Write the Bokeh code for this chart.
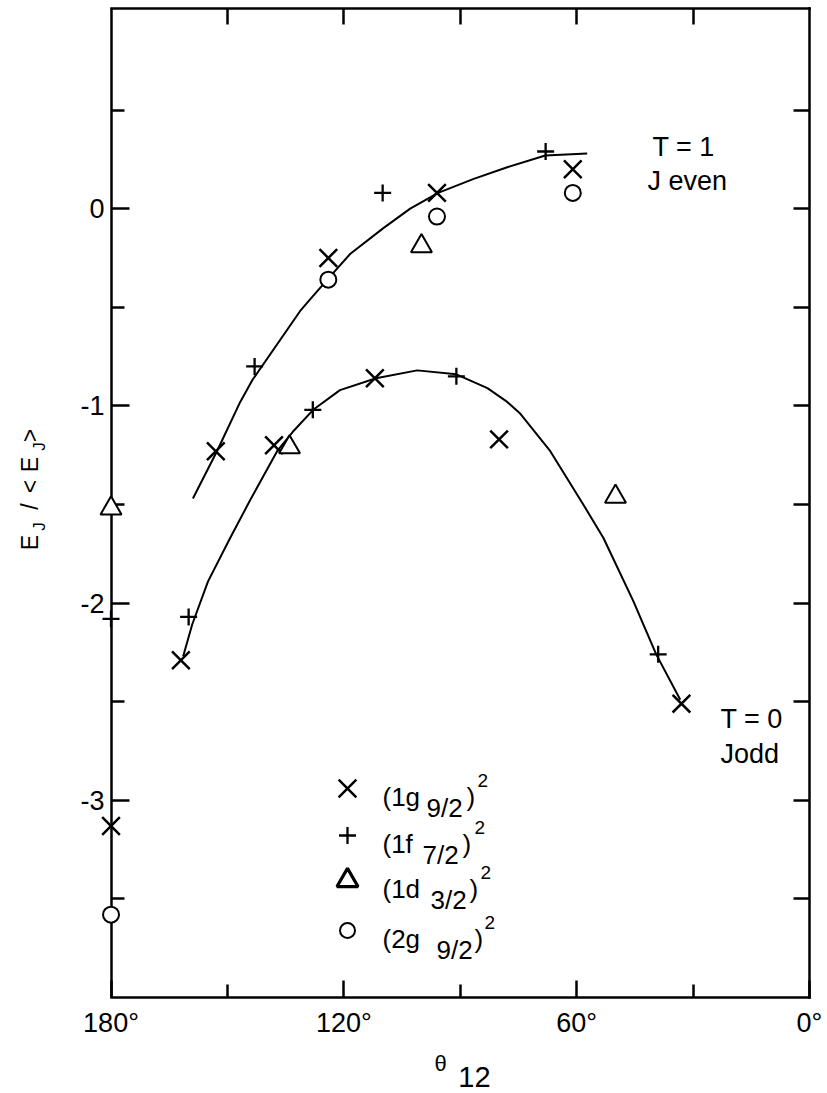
import numpy as np
from bokeh.plotting import figure
from bokeh.models import Range1d, LinearAxis, FixedTicker, Label
from bokeh.embed import file_html
from bokeh.resources import INLINE

# --- data: normalized two-body energies vs. semiclassical angle theta_12 ---
# (1g9/2)^2
g9_theta = [180, 162, 153, 138, 124, 112, 96, 80, 61, 33]
g9_e = [-3.13, -2.29, -1.23, -1.20, -0.25, -0.86, 0.08, -1.17, 0.20, -2.51]
# (1f7/2)^2
f7_theta = [180, 160, 143, 128, 110, 91, 68, 39]
f7_e = [-2.08, -2.07, -0.80, -1.02, 0.08, -0.85, 0.29, -2.26]
# (1d3/2)^2
d3_theta = [180, 134, 100, 50]
d3_e = [-1.52, -1.21, -0.19, -1.46]
# (2g9/2)^2
g92_theta = [180, 124, 96, 61]
g92_e = [-3.58, -0.36, -0.04, 0.08]

# trend curves: T = 1 (J even) and T = 0 (J odd)
even_theta = [158.9, 152.7, 146.7, 143.6, 131.3, 128.7, 123.8, 118.4, 109.9,
              102.9, 95.7, 86.7, 77.9, 68.1, 57.3]
even_e = [-1.47, -1.23, -0.98, -0.87, -0.52, -0.46, -0.35, -0.23, -0.10,
          0.0, 0.08, 0.15, 0.21, 0.27, 0.28]
odd_theta = [161.4, 159.1, 155.0, 149.3, 144.2, 137.2, 133.1, 127.9, 121.0,
             111.7, 101.1, 91.0, 83.0, 77.9, 74.5, 66.8, 58.3, 53.1, 45.4,
             39.5, 33.3]
odd_e = [-2.27, -2.11, -1.89, -1.67, -1.48, -1.23, -1.13, -1.02, -0.92,
         -0.86, -0.82, -0.84, -0.91, -0.98, -1.04, -1.23, -1.50, -1.67, -1.99,
         -2.26, -2.49]

# axis ticks
x_ticks = [180, 120, 60, 0]
x_tick_text = ["180°", "120°", "60°", "0°"]
x_minor = [150, 90, 30]
y_ticks = [-3, -2, -1, 0]
y_tick_text = ["-3", "-2", "-1", "0"]
y_minor = [-3.5, -2.5, -1.5, -0.5, 0.5]

# legend text pieces
legend_main = ["(1g", "(1f", "(1d", "(2g"]
legend_sub = ["9/2", "7/2", "3/2", "9/2"]

FONT = "Liberation Sans"
W, H = 827, 1093
FL, FR, FT, FB = 95, 809, 8, 997      # frame edges in canvas pixels
X0, X1 = 184, 0                       # a little room left of 180 deg for edge markers
Y0, Y1 = -4.0, 1.015

p = figure(width=W, height=H, x_range=Range1d(X0, X1), y_range=Range1d(Y0, Y1),
           output_backend="svg", toolbar_location=None,
           x_axis_location=None, y_axis_location=None,
           min_border_left=FL, min_border_right=W - FR,
           min_border_top=FT, min_border_bottom=H - FB)
p.grid.grid_line_color = None
p.outline_line_color = None
p.background_fill_color = "white"
p.border_fill_color = "white"


def to_data(px, py):
    x = X0 + (px - FL) * (X1 - X0) / (FR - FL)
    y = Y1 - (py - FT) * (Y1 - Y0) / (FB - FT)
    return round(x, 3), round(y, 4)


def tick_axis(major, minor, major_len, minor_len, line=True, **kw):
    """Axis line and inward ticks only, no labels."""
    return LinearAxis(ticker=FixedTicker(ticks=[], minor_ticks=major + minor),
                      axis_line_width=2.5,
                      axis_line_color="black" if line else None,
                      axis_line_cap="square",
                      major_tick_in=0, major_tick_out=0,
                      minor_tick_in=major_len if not minor else minor_len,
                      minor_tick_out=0,
                      minor_tick_line_width=2.5, minor_tick_line_color="black",
                      major_label_standoff=0, **kw)


def text_axis(items, size, standoff, vertical=False):
    """An axis without line or ticks, used only to place text pieces."""
    ticks = [t for t, _ in items]
    return LinearAxis(ticker=FixedTicker(ticks=ticks, minor_ticks=[]),
                      major_label_overrides={t: s for t, s in items},
                      axis_line_color=None, major_tick_line_color=None,
                      minor_tick_line_color=None,
                      major_tick_in=0, major_tick_out=0,
                      minor_tick_in=0, minor_tick_out=0,
                      major_label_text_font=FONT,
                      major_label_text_font_size=f"{size}px",
                      major_label_text_color="black",
                      major_label_orientation="parallel" if vertical else "horizontal",
                      major_label_standoff=standoff)


# frame lines and ticks (left edge sits at 180 deg)
p.add_layout(tick_axis(y_ticks, [], 18, 0, fixed_location=180), "left")
p.add_layout(tick_axis([], y_minor, 0, 13, line=False, fixed_location=180), "left")
p.add_layout(tick_axis(x_ticks, [], 17, 0, bounds=(180, 0)), "below")
p.add_layout(tick_axis([], x_minor, 0, 13, line=False, bounds=(180, 0)), "below")
p.add_layout(tick_axis([], x_minor + [120, 60], 0, 16, bounds=(180, 0)), "above")
p.add_layout(tick_axis([], y_minor + y_ticks, 0, 16), "right")

# tick labels
p.add_layout(text_axis(list(zip(y_ticks, y_tick_text)), 27, -9), "left")
p.add_layout(text_axis(list(zip(x_ticks, x_tick_text)), 27, 10), "below")

# y title  E_J / <E_J>  (subscripts on their own band, nearer the frame)
ylab_sub = [(to_data(0, 526)[1], "J"), (to_data(0, 446)[1], "J")]
ylab_main = [(to_data(0, 542)[1], "E"), (to_data(0, 506)[1], "/"),
             (to_data(0, 486)[1], "<"), (to_data(0, 464)[1], "E"),
             (to_data(0, 435)[1], ">")]
p.add_layout(text_axis(ylab_sub, 17, 28, True), "left")
p.add_layout(text_axis(ylab_main, 23, -16, True), "left")

# x title  theta_12
p.add_layout(text_axis([(to_data(440, 0)[0], "θ")], 22, 10), "below")
p.add_layout(text_axis([(to_data(474, 0)[0], "12")], 29, -12), "below")

# curves
p.line(even_theta, even_e, line_color="black", line_width=2)
p.line(odd_theta, odd_e, line_color="black", line_width=2)

# points
p.scatter(g9_theta, g9_e, marker="x", size=25, line_color="black", line_width=2.5)
p.scatter(f7_theta, f7_e, marker="cross", size=17, line_color="black", line_width=2.3)
p.scatter(d3_theta, d3_e, marker="triangle", size=21, line_color="black",
          fill_color="white", line_width=2, level="overlay")
p.scatter(g92_theta, g92_e, marker="circle", size=16, line_color="black",
          fill_color="white", line_width=2, level="overlay")


def text(s, px, py, size):
    p.add_layout(Label(x=px - FL, y=FB - py, x_units="screen", y_units="screen",
                       text=s, text_font=FONT, text_font_size=f"{size}px",
                       text_align="left", text_baseline="alphabetic",
                       text_color="black"))


# legend
rows = [788, 835, 880, 930]
sub_x = [426, 422, 430, 436]
par_x = [466, 462, 469, 474]
sup_x = [477, 474, 480, 484]
markers = [("x", 25, 2.5, None), ("cross", 17, 2.3, None),
           ("triangle", 21, 3.2, "white"), ("circle", 15, 2, "white")]
for i, ry in enumerate(rows):
    mx, my = to_data(347, ry)
    m, s, lw, fc = markers[i]
    p.scatter([mx], [my], marker=m, size=s, line_color="black", line_width=lw,
              fill_color=fc)
    text(legend_main[i], 382, ry + 8, 26)
    text(legend_sub[i], sub_x[i], ry + 19, 26)
    text(")", par_x[i], ry + 8, 26)
    text("2", sup_x[i], ry - 8, 19)

# curve annotations
text("T = 1", 652, 146, 27)
text("J even", 647, 180, 27)
text("T = 0", 720, 718, 27)
text("Jodd", 720, 753, 27)

open("out.html", "w").write(file_html(p, INLINE))
